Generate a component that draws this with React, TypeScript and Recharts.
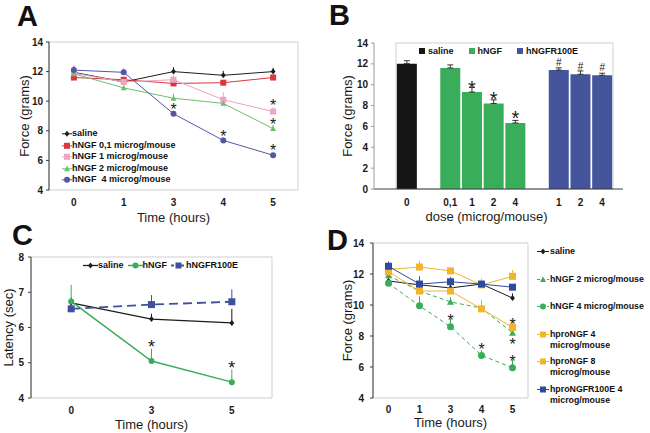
import React from 'react';
import { LineChart, Line, BarChart, Bar, XAxis, YAxis, ErrorBar, LabelList, Legend, ReferenceArea } from 'recharts';

const FONT = '"Liberation Sans", Arial, Helvetica, sans-serif';
const AXIS = '#3c3c3c';
const BOX = '#cfcfcf';

// ---- A: force vs time, hNGF doses
const timesA = ['0', '1', '3', '4', '5'];
const salineA = [11.95, 11.3, 12.0, 11.75, 12.0];
const salineErrA = [0.35, 0.3, 0.3, 0.3, 0.25];
const ngf01A = [11.6, 11.45, 11.2, 11.25, 11.6];
const ngf01ErrA = [0.15, 0.15, 0.2, 0.15, 0.15];
const ngf1A = [11.9, 11.3, 11.45, 10.1, 9.3];
const ngf1ErrA = [0.2, 0.2, 0.3, 0.5, 0.3];
const ngf2A = [11.85, 10.9, 10.2, 9.85, 8.15];
const ngf2ErrA = [0.2, 0.15, 0.3, 0.2, 0.25];
const ngf4A = [12.1, 11.95, 9.15, 7.35, 6.35];
const ngf4ErrA = [0.3, 0.25, 0.2, 0.2, 0.15];
const ngf1StarA = ['', '', '', '', '*'];
const ngf2StarA = ['', '', '', '', '*'];
const ngf4StarA = ['', '', '*', '*', '*'];
const ticksA = [4, 6, 8, 10, 12, 14];

// ---- B: force vs dose (bars)
const dosesB = ['0', '', '0,1', '1', '2', '4', '', '1', '2', '4'];
const salineB = [12.02, null, null, null, null, null, null, null, null, null];
const salineErrB = [0.28, null, null, null, null, null, null, null, null, null];
const ngfB = [null, null, 11.6, 9.3, 8.2, 6.33, null, null, null, null];
const ngfErrB = [null, null, 0.3, 0.45, 0.35, 0.25, null, null, null, null];
const r100eB = [null, null, null, null, null, null, null, 11.4, 11.0, 10.9];
const r100eErrB = [null, null, null, null, null, null, null, 0.22, 0.32, 0.2];
const ngfMarkB = ['', '', '', '*', '*', '*', '', '', '', ''];
const r100eMarkB = ['', '', '', '', '', '', '', '#', '#', '#'];
const ticksB = [0, 2, 4, 6, 8, 10, 12, 14];

// ---- C: latency vs time
const timesC = ['0', '3', '5'];
const salineC = [6.7, 6.24, 6.13];
const salineErrC = [0.15, 0.15, 0.4];
const ngfC = [6.74, 5.05, 4.45];
const ngfErrC = [0.47, 0.35, 0.36];
const r100eC = [6.53, 6.65, 6.73];
const r100eErrC = [0.2, 0.27, 0.35];
const ngfStarC = ['', '*', '*'];
const ticksC = [4, 5, 6, 7, 8];

// ---- D: force vs time, hNGF vs hproNGF
const timesD = ['0', '1', '3', '4', '5'];
const salineD = [11.55, 11.3, 11.1, 11.35, 10.45];
const salineErrD = [0.2, 0.45, 0.25, 0.3, 0.3];
const ngf2D = [11.9, 10.9, 10.2, 9.8, 8.2];
const ngf2ErrD = [0.25, 0.2, 0.3, 0.3, 0.3];
const ngf4D = [11.4, 9.95, 8.6, 6.75, 5.95];
const ngf4ErrD = [0.2, 0.6, 0.5, 0.35, 0.5];
const pro4D = [12.3, 12.45, 12.2, 11.3, 11.85];
const pro4ErrD = [0.3, 0.4, 0.25, 0.4, 0.4];
const pro8D = [12.15, 10.9, 10.9, 9.75, 8.55];
const pro8ErrD = [0.3, 0.3, 0.3, 0.6, 0.4];
const proR100eD = [12.5, 11.35, 11.5, 11.35, 11.15];
const proR100eErrD = [0.3, 0.5, 0.3, 0.2, 0.2];
const ngf2StarD = ['', '', '', '', '*'];
const ngf4StarD = ['', '', '*', '*', '*'];
const pro8StarD = ['', '', '', '', '*'];

const up = (a: (number | null)[]) => a.map((e) => (e == null ? undefined : [0, e]));
const rows = (cats: string[], cols: Record<string, any[]>) =>
  cats.map((t, i) => {
    const r: any = { t };
    Object.keys(cols).forEach((k) => (r[k] = cols[k][i]));
    return r;
  });

const dataA = rows(timesA, {
  saline: salineA, salineErr: up(salineErrA),
  ngf01: ngf01A, ngf01Err: up(ngf01ErrA),
  ngf1: ngf1A, ngf1Err: up(ngf1ErrA), ngf1Star: ngf1StarA,
  ngf2: ngf2A, ngf2Err: up(ngf2ErrA), ngf2Star: ngf2StarA,
  ngf4: ngf4A, ngf4Err: up(ngf4ErrA), ngf4Star: ngf4StarA,
});
const dataB = rows(dosesB, {
  saline: salineB, salineErr: up(salineErrB),
  ngf: ngfB, ngfErr: up(ngfErrB), ngfStar: ngfMarkB,
  r100e: r100eB, r100eErr: up(r100eErrB), r100eStar: r100eMarkB,
});
const dataC = rows(timesC, {
  saline: salineC, salineErr: up(salineErrC),
  ngf: ngfC, ngfErr: up(ngfErrC), ngfStar: ngfStarC,
  r100e: r100eC, r100eErr: up(r100eErrC),
});
const dataD = rows(timesD, {
  saline: salineD, salineErr: up(salineErrD),
  ngf2: ngf2D, ngf2Err: up(ngf2ErrD), ngf2Star: ngf2StarD,
  ngf4: ngf4D, ngf4Err: up(ngf4ErrD), ngf4Star: ngf4StarD,
  pro4: pro4D, pro4Err: up(pro4ErrD),
  pro8: pro8D, pro8Err: up(pro8ErrD), pro8Star: pro8StarD,
  proR: proR100eD, proRErr: up(proR100eErrD),
});

type Spec = {
  key: string; name: string; color: string; shape: string; size: number;
  width?: number; dash?: string; starOff?: number; starSize?: number;
};

const seriesA: Spec[] = [
  { key: 'saline', name: 'saline', color: '#1c1c1c', shape: 'diamond', size: 6 },
  { key: 'ngf01', name: 'hNGF 0,1 microg/mouse', color: '#d8383e', shape: 'square', size: 6 },
  { key: 'ngf1', name: 'hNGF 1 microg/mouse', color: '#eda5c4', shape: 'square', size: 6, starOff: 10, starSize: 16 },
  { key: 'ngf2', name: 'hNGF 2 microg/mouse', color: '#6cc06c', shape: 'triangle', size: 6, starOff: 8, starSize: 16 },
  { key: 'ngf4', name: 'hNGF  4 microg/mouse', color: '#5656a6', shape: 'circle', size: 6, starOff: 8, starSize: 16 },
];
const seriesB: Spec[] = [
  { key: 'saline', name: 'saline', color: '#151515', shape: 'bar', size: 6 },
  { key: 'ngf', name: 'hNGF', color: '#3aad5b', shape: 'bar', size: 6, starOff: 9, starSize: 20 },
  { key: 'r100e', name: 'hNGFR100E', color: '#45559c', shape: 'bar', size: 6, starOff: 8, starSize: 10 },
];
const seriesC: Spec[] = [
  { key: 'saline', name: 'saline', color: '#1c1c1c', shape: 'diamond', size: 6, width: 1.3 },
  { key: 'ngf', name: 'hNGF', color: '#3aad5b', shape: 'circle', size: 6, width: 1.5, starOff: 18, starSize: 18 },
  { key: 'r100e', name: 'hNGFR100E', color: '#3f519d', shape: 'square', size: 7, width: 1.8, dash: '9 5' },
];
const seriesD: Spec[] = [
  { key: 'saline', name: 'saline', color: '#1c1c1c', shape: 'diamond', size: 6 },
  { key: 'ngf2', name: 'hNGF 2 microg/mouse', color: '#3aad5b', shape: 'triangle', size: 7, dash: '4 3', starOff: -8, starSize: 16 },
  { key: 'ngf4', name: 'hNGF 4 microg/mouse', color: '#3aad5b', shape: 'circle', size: 7, dash: '4 3', starOff: 10, starSize: 16 },
  { key: 'pro4', name: 'hproNGF 4\nmicrog/mouse', color: '#f2b42a', shape: 'square', size: 7 },
  { key: 'pro8', name: 'hproNGF 8\nmicrog/mouse', color: '#f2b42a', shape: 'square', size: 7, starOff: 7, starSize: 16 },
  { key: 'proR', name: 'hproNGFR100E 4\nmicrog/mouse', color: '#2f4a9c', shape: 'square', size: 7 },
];

const Marker = ({ shape, cx, cy, size, color }: any) => {
  const h = size / 2;
  if (shape === 'square' || shape === 'bar') return <rect x={cx - h} y={cy - h} width={size} height={size} fill={color} />;
  if (shape === 'circle') return <circle cx={cx} cy={cy} r={h} fill={color} />;
  if (shape === 'triangle')
    return <polygon points={`${cx},${cy - h} ${cx + h},${cy + h * 0.8} ${cx - h},${cy + h * 0.8}`} fill={color} />;
  return <polygon points={`${cx},${cy - h} ${cx + h * 0.8},${cy} ${cx},${cy + h} ${cx - h * 0.8},${cy}`} fill={color} />;
};

const dotFor = (s: Spec) => (p: any) => {
  if (p.cx == null || p.cy == null) return <g key={`d-${p.index}`} />;
  return (
    <g key={`d-${p.index}`}>
      <Marker shape={s.shape} cx={p.cx} cy={p.cy} size={s.size} color={s.color} />
    </g>
  );
};

// star / hash drawn above a point or a bar
const markLabel = (off: number, size: number, isBar: boolean) => (props: any) => {
  const vb = props.viewBox || props;
  const { value } = props;
  if (!value || vb.x == null || vb.y == null) return <g />;
  const x = isBar ? vb.x + vb.width / 2 : vb.x;
  const k = value === '#' ? 0.34 : 0.575;
  return (
    <text x={x} y={vb.y - off + size * k} textAnchor="middle" fontSize={size} fontFamily={FONT} fill="#1a1a1a">
      {value}
    </text>
  );
};

const lineEl = (s: Spec) => (
  <Line
    key={s.key}
    xAxisId="cat"
    dataKey={s.key}
    name={s.name}
    stroke={s.color}
    strokeWidth={s.width ?? 1}
    strokeDasharray={s.dash}
    dot={dotFor(s)}
    activeDot={false}
    isAnimationActive={false}
  >
    <ErrorBar dataKey={`${s.key}Err`} width={0} stroke={s.color} strokeWidth={1} direction="y" />
    {s.starOff != null && (
      <LabelList dataKey={`${s.key}Star`} content={markLabel(s.starOff, s.starSize ?? 16, false)} />
    )}
  </Line>
);

// legend follows the spec order (recharts sorts its payload by name)
type LegOpts = { rowH: number; lineH: number; iconW: number; textGap: number; horizontal?: boolean; gap?: number; fontSize?: number };
const lineLegend = (specs: Spec[], o: LegOpts) => (props: any) => {
  const payload = props.payload || [];
  return (
    <div style={{ display: o.horizontal ? 'flex' : 'block', fontFamily: FONT, fontSize: o.fontSize ?? 9, fontWeight: 'bold', color: '#111' }}>
      {specs.map((s) => {
        const p = payload.find((x: any) => x.dataKey === s.key);
        if (!p) return null;
        return (
          <div key={s.key} style={{ display: 'flex', alignItems: 'flex-start', height: o.horizontal ? o.lineH : o.rowH, marginRight: o.horizontal ? o.gap : 0 }}>
            <svg width={o.iconW} height={o.lineH} style={{ flex: 'none' }}>
              {s.shape !== 'bar' && (
                <line x1={0} x2={o.iconW} y1={o.lineH / 2} y2={o.lineH / 2} stroke={s.color} strokeWidth={s.width ?? 1} strokeDasharray={s.dash ? '3 2' : undefined} />
              )}
              <Marker shape={s.shape} cx={o.iconW / 2} cy={o.lineH / 2} size={s.shape === 'bar' ? 6 : Math.min(s.size, 6)} color={s.color} />
            </svg>
            <span style={{ whiteSpace: 'pre', lineHeight: `${o.lineH}px`, marginLeft: o.textGap }}>{p.value}</span>
          </div>
        );
      })}
    </div>
  );
};

const tickStyle = { fill: '#1a1a1a', fontSize: 10, fontWeight: 'bold', fontFamily: FONT };
const titleStyle = { fill: '#1a1a1a', fontSize: 13, fontFamily: FONT };

const Letter = ({ ch, left, top }: { ch: string; left: number; top: number }) => (
  <div style={{ position: 'absolute', left, top, fontSize: 29, lineHeight: 1, fontWeight: 'bold', fontFamily: FONT, color: '#111' }}>
    {ch}
  </div>
);

// Excel-like category axis: tick marks between categories, labels centred in bands
const TimeAxes = (n: number, labelOffset: number, height: number, tickMargin = 3) => [
  <XAxis
    key="ticks"
    xAxisId="ticks"
    type="number"
    domain={[0, n]}
    ticks={Array.from({ length: n + 1 }, (_, i) => i)}
    allowDataOverflow
    tick={false}
    height={0}
    tickSize={4}
    stroke={AXIS}
  />,
  <XAxis
    key="cat"
    xAxisId="cat"
    dataKey="t"
    scale="band"
    interval={0}
    axisLine={false}
    tickLine={false}
    tickSize={6}
    tickMargin={tickMargin}
    height={height}
    tick={tickStyle}
    label={{ value: 'Time (hours)', position: 'insideBottom', offset: labelOffset, style: titleStyle }}
  />,
];

const PanelA = () => (
  <div style={{ position: 'absolute', left: 0, top: 0 }}>
    <LineChart width={325} height={226} data={dataA} margin={{ top: 42, right: 27, bottom: 0, left: 9 }}>
      <ReferenceArea xAxisId="cat" y1={4} y2={14} fill="none" stroke={BOX} />
      {TimeAxes(5, 4, 36)}
      <YAxis
        width={40}
        domain={[4, 14]}
        ticks={ticksA}
        tickSize={3}
        tickMargin={3}
        stroke={AXIS}
        tick={tickStyle}
        label={{ value: 'Force (grams)', angle: -90, position: 'insideLeft', offset: 15, style: { ...titleStyle, textAnchor: 'middle' } }}
      />
      {seriesA.map(lineEl)}
      <Legend
        layout="vertical"
        align="center"
        verticalAlign="middle"
        wrapperStyle={{ left: 62, top: 128, width: 160 }}
        content={lineLegend(seriesA, { rowH: 11.6, lineH: 11.6, iconW: 10, textGap: 0 })}
      />
    </LineChart>
  </div>
);

const PanelB = () => (
  <div style={{ position: 'absolute', left: 325, top: 0 }}>
    <BarChart width={325} height={226} data={dataB} barCategoryGap="4%" margin={{ top: 43, right: 27, bottom: 0, left: 9 }}>
      <ReferenceArea y1={0} y2={14} fill="none" stroke={BOX} />
      <XAxis
        dataKey="t"
        interval={0}
        padding={{ left: 22, right: 10 }}
        tickLine={false}
        tickSize={6}
        tickMargin={4}
        height={37}
        stroke={AXIS}
        tick={tickStyle}
        label={{ value: 'dose (microg/mouse)', position: 'insideBottom', offset: 5, dx: -12, style: titleStyle }}
      />
      <YAxis
        width={40}
        domain={[0, 14]}
        ticks={ticksB}
        tickSize={3}
        tickMargin={3}
        stroke="#9a9a9a"
        tick={tickStyle}
        label={{ value: 'Force (grams)', angle: -90, position: 'insideLeft', offset: 13.5, style: { ...titleStyle, textAnchor: 'middle' } }}
      />
      {seriesB.map((s) => (
        <Bar key={s.key} dataKey={s.key} name={s.name} stackId="dose" fill={s.color} isAnimationActive={false}>
          <ErrorBar dataKey={`${s.key}Err`} width={3} stroke="#333" strokeWidth={1} direction="y" />
          {s.starOff != null && <LabelList dataKey={`${s.key}Star`} content={markLabel(s.starOff, s.starSize ?? 16, true)} />}
        </Bar>
      ))}
      <Legend
        layout="vertical"
        align="center"
        verticalAlign="middle"
        wrapperStyle={{ left: 94, top: 45, width: 220 }}
        content={lineLegend(seriesB, { rowH: 12, lineH: 12, iconW: 6, textGap: 3, horizontal: true, gap: 15 })}
      />
    </BarChart>
  </div>
);

const PanelC = () => (
  <div style={{ position: 'absolute', left: 0, top: 215 }}>
    <LineChart width={325} height={218} data={dataC} margin={{ top: 42, right: 53, bottom: 0, left: 0 }}>
      <ReferenceArea xAxisId="cat" y1={4} y2={8} fill="none" stroke={BOX} />
      {TimeAxes(3, 4.4, 35)}
      <YAxis
        width={31}
        domain={[4, 8]}
        ticks={ticksC}
        tickSize={3}
        tickMargin={4}
        stroke={AXIS}
        tick={tickStyle}
        label={{ value: 'Latency (sec)', angle: -90, position: 'insideLeft', offset: 8.5, style: { ...titleStyle, textAnchor: 'middle' } }}
      />
      {seriesC.map(lineEl)}
      <Legend
        layout="vertical"
        align="center"
        verticalAlign="middle"
        wrapperStyle={{ left: 83, top: 45, width: 200 }}
        content={lineLegend(seriesC, { rowH: 11, lineH: 11, iconW: 15, textGap: 0, horizontal: true, gap: 4 })}
      />
    </LineChart>
  </div>
);

const PanelD = () => (
  <div style={{ position: 'absolute', left: 325, top: 215 }}>
    <LineChart width={325} height={218} data={dataD} margin={{ top: 28, right: 122, bottom: 0, left: 8 }}>
      <ReferenceArea xAxisId="cat" y1={4} y2={14} fill="none" stroke={BOX} />
      {TimeAxes(5, 6, 35, 2)}
      <YAxis
        width={40}
        domain={[4, 14]}
        ticks={ticksA}
        tickSize={3}
        tickMargin={6}
        stroke={AXIS}
        tick={tickStyle}
        label={{ value: 'Force (grams)', angle: -90, position: 'insideLeft', offset: 14, style: { ...titleStyle, textAnchor: 'middle' } }}
      />
      {seriesD.map(lineEl)}
      <Legend
        layout="vertical"
        align="center"
        verticalAlign="middle"
        wrapperStyle={{ left: 212, top: 31, width: 113 }}
        content={lineLegend(seriesD, { rowH: 27.6, lineH: 11, iconW: 12, textGap: 1, fontSize: 8.8 })}
      />
    </LineChart>
  </div>
);

export default function App() {
  return (
    <div style={{ position: 'absolute', left: 0, top: 0, width: 650, height: 433, background: '#fff', overflow: 'hidden', fontFamily: FONT }}>
      <PanelA />
      <PanelB />
      <PanelC />
      <PanelD />
      <Letter ch="A" left={17} top={2} />
      <Letter ch="B" left={329} top={1} />
      <Letter ch="C" left={12} top={221} />
      <Letter ch="D" left={327} top={226} />
    </div>
  );
}
